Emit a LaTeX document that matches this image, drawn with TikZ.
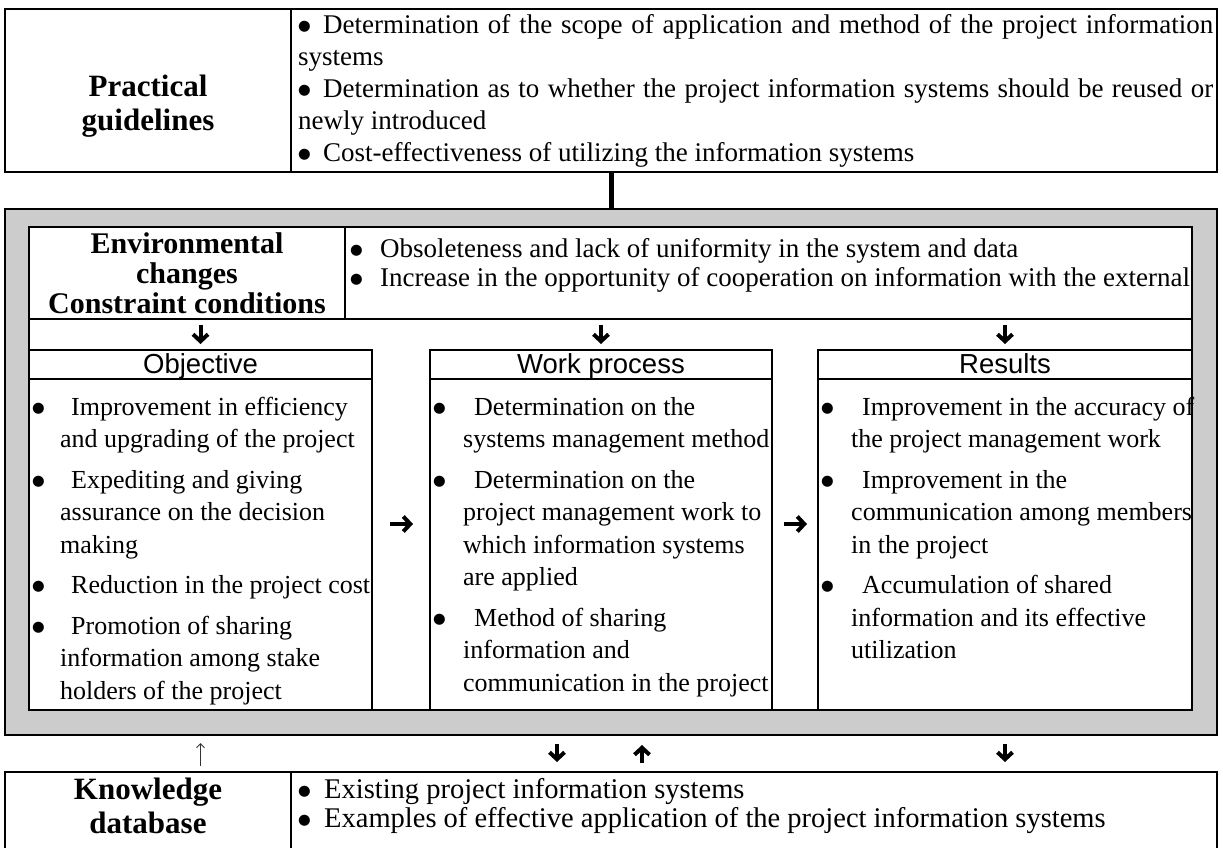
\documentclass[tikz,border=0pt]{standalone}
\usepackage{fontspec}
\setmainfont{Liberation Serif}
\newfontfamily\hdfont{Liberation Sans}
\newfontfamily\symfont{DejaVu Sans}
\usetikzlibrary{arrows.meta}
\definecolor{gbox}{HTML}{CCCCCC}
\newcommand{\bb}[1]{\makebox[#1][l]{\raisebox{3pt}{\symfont\fontsize{14.5}{14.5}\selectfont ●}}}
\begin{document}
\begin{tikzpicture}[x=1pt,y=-1pt,
  boxframe/.style={draw, line width=2.7pt, inner sep=0pt, outer sep=0pt, anchor=north west},
  divline/.style={line width=2pt},
  hline/.style={line width=2.7pt},
  lbl/.style={font=\fontsize{31}{34}\selectfont\bfseries, align=center, inner sep=0pt},
  bodytext/.style={font=\fontsize{26}{32.5}\selectfont, inner sep=0pt, anchor=base west},
  envtext/.style={font=\fontsize{27}{29}\selectfont, inner sep=0pt, anchor=base west},
  colhead/.style={font=\hdfont\fontsize{27.5}{30}\selectfont, inner sep=0pt, anchor=base},
  barrow/.style={line width=4pt, -{Straight Barb[length=7pt,width=15pt]}},
  thinarrow/.style={line width=1pt, black!80, -{Straight Barb[length=4pt,width=8pt]}},
  bigconn/.style={line width=5pt},
]
\useasboundingbox (0,0) rectangle (1223,848);
\clip (0,0) rectangle (1223,848);

% boxes
\node[boxframe, minimum width=1212pt, minimum height=163pt] (top) at (5,9) {};
\coordinate (d1) at (291,0);
\coordinate (d2) at (345,0);
\draw[divline] (top.north -| d1) -- (top.south -| d1);

\node[boxframe, fill=gbox, minimum width=1212pt, minimum height=526pt] (gray) at (5,209) {};
\node[boxframe, fill=white, minimum width=1163pt, minimum height=483pt] (inner) at (29,227) {};
\node[boxframe, minimum width=1163pt, minimum height=92pt] (env) at (29,227) {};
\draw[divline] (env.north -| d2) -- (env.south -| d2);

\node[boxframe, minimum width=343pt, minimum height=360pt] (obj) at (29,350) {};
\node[boxframe, minimum width=342pt, minimum height=360pt] (work) at (430,350) {};
\node[boxframe, minimum width=374pt, minimum height=360pt] (res) at (818,350) {};
\coordinate (hy) at (0,379);
\draw[hline] (obj.west |- hy) -- (obj.east |- hy);
\draw[hline] (work.west |- hy) -- (work.east |- hy);
\draw[hline] (res.west |- hy) -- (res.east |- hy);

\node[boxframe, minimum width=1212pt, minimum height=120pt] (know) at (5,772) {};
\draw[divline] (know.north -| d1) -- (know.south -| d1);

% texts
\node[lbl] (toplbl) at (148,106) {Practical\\guidelines};
\node[bodytext, font=\fontsize{27}{32}\selectfont] (toplist) at (298,34) {\begin{tabular}[t]{@{}l@{}}
\bb{25pt}\makebox[890pt][s]{Determination of the scope of application and method of the project information}\\
systems\\
\bb{25pt}\makebox[890pt][s]{Determination as to whether the project information systems should be reused or}\\
newly introduced\\
\bb{25pt}Cost-effectiveness of utilizing the information systems
\end{tabular}};

\node[lbl, font=\fontsize{30}{30}\selectfont\bfseries] (envlbl) at (187,273) {Environmental\\changes\\Constraint conditions};
\node[envtext] (envlist) at (350,257) {\begin{tabular}[t]{@{}l@{}}
\bb{30pt}Obsoleteness and lack of uniformity in the system and data\\
\bb{30pt}Increase in the opportunity of cooperation on information with the external
\end{tabular}};

\coordinate (hb) at (0,373);
\node[colhead] (objh) at (obj.north |- hb) {Objective};
\node[colhead] (workh) at (work.north |- hb) {Work process};
\node[colhead] (resh) at (res.north |- hb) {Results};

\node[bodytext] (objlist) at (32,415) {\begin{tabular}[t]{@{}l@{}l@{}}
\bb{28pt} & \hspace{11pt}Improvement in efficiency\\
 & and upgrading of the project\\[8pt]
\bb{28pt} & \hspace{11pt}Expediting and giving\\
 & assurance on the decision\\
 & making\\[8pt]
\bb{28pt} & \hspace{11pt}Reduction in the project cost\\[8pt]
\bb{28pt} & \hspace{11pt}Promotion of sharing\\
 & information among stake\\
 & holders of the project
\end{tabular}};

\node[bodytext] (worklist) at (433,415) {\begin{tabular}[t]{@{}l@{}l@{}}
\bb{30pt} & \hspace{11pt}Determination on the\\
 & systems management method\\[8pt]
\bb{30pt} & \hspace{11pt}Determination on the\\
 & project management work to\\
 & which information systems\\
 & are applied\\[8pt]
\bb{30pt} & \hspace{11pt}Method of sharing\\
 & information and\\
 & communication in the project
\end{tabular}};

\node[bodytext] (reslist) at (821,415) {\begin{tabular}[t]{@{}l@{}l@{}}
\bb{30pt} & \hspace{11pt}Improvement in the accuracy of\\
 & the project management work\\[8pt]
\bb{30pt} & \hspace{11pt}Improvement in the\\
 & communication among members\\
 & in the project\\[8pt]
\bb{30pt} & \hspace{11pt}Accumulation of shared\\
 & information and its effective\\
 & utilization
\end{tabular}};

\node[lbl, anchor=north] (knowlbl) at (148,778) {Knowledge\\database};
\node[envtext, font=\fontsize{28.5}{29}\selectfont] (knowlist) at (298,798) {\begin{tabular}[t]{@{}l@{}}
\bb{26pt}Existing project information systems\\
\bb{26pt}Examples of effective application of the project information systems
\end{tabular}};

% connectors
\draw[bigconn] (top.south) -- (gray.north);
\draw[barrow, shorten <=6pt, shorten >=6pt] (obj.north |- env.south) -- (obj.north);
\draw[barrow, shorten <=6pt, shorten >=6pt] (work.north |- env.south) -- (work.north);
\draw[barrow, shorten <=6pt, shorten >=6pt] (res.north |- env.south) -- (res.north);
\coordinate (ry) at (0,524);
\draw[barrow, shorten <=18pt, shorten >=17pt] (obj.east |- ry) -- (work.west |- ry);
\draw[barrow, shorten <=12pt, shorten >=11pt] (work.east |- ry) -- (res.west |- ry);
\coordinate (b1) at (557,0);
\coordinate (b2) at (642,0);
\draw[thinarrow, shorten <=6pt, shorten >=8pt] (know.north -| obj.south) -- (gray.south -| obj.south);
\draw[barrow, shorten <=9pt, shorten >=10pt] (gray.south -| b1) -- (know.north -| b1);
\draw[barrow, shorten <=9pt, shorten >=10pt] (know.north -| b2) -- (gray.south -| b2);
\draw[barrow, shorten <=9pt, shorten >=10pt] (gray.south -| res.south) -- (know.north -| res.south);
\end{tikzpicture}
\end{document}
